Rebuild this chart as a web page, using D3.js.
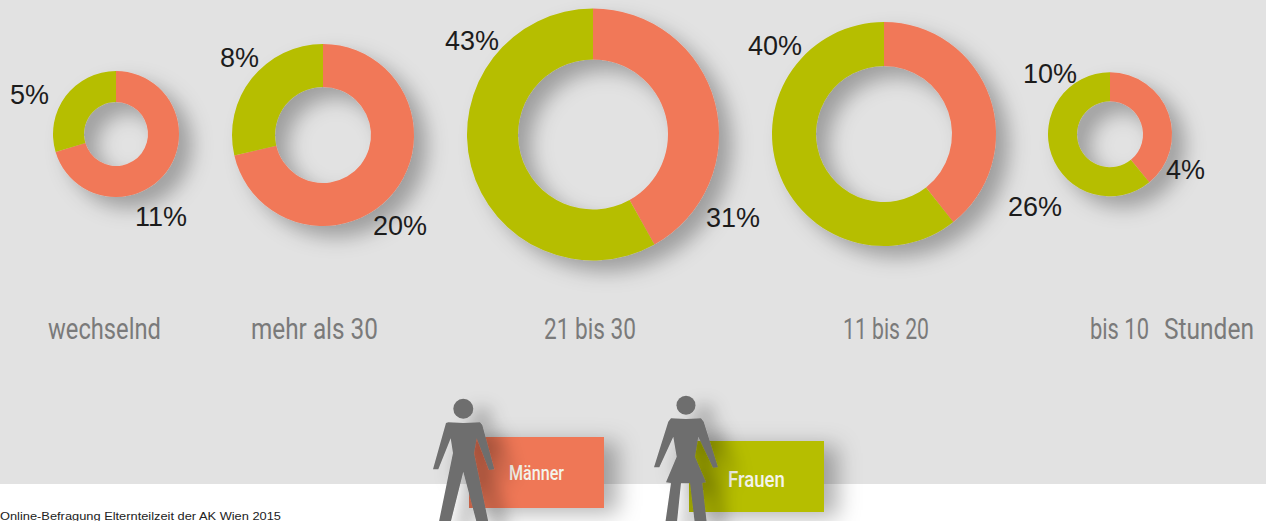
<!DOCTYPE html>
<html><head><meta charset="utf-8">
<script src="https://d3js.org/d3.v7.min.js"></script>
<style>html,body{margin:0;padding:0;background:#fff;overflow:hidden}svg{display:block}</style>
</head><body><div id="c"></div>
<script>
// data
const categories = ["wechselnd","mehr als 30","21 bis 30","11 bis 20","bis 10"];
const menPct = [11,20,31,26,4];
const womenPct = [5,8,43,40,10];
// ring share of men read from the drawn segment boundaries
const menShare = [0.704,0.714,0.419,0.394,0.391];
const unitLabel = "Stunden";
const legendNames = ["Männer","Frauen"];
const source = "Online-Befragung Elternteilzeit der AK Wien 2015";

// layout
const W=1266,H=521,coral="#f17858",olive="#b6be00",grey="#6e6e6e";
const cx=[116,323,593,884,1110], cy=[134,135,134.5,134,134.3];
const outerR=[63,91,126,112,62], innerR=[32,48,75,68,33];
const menLabelXY=[[135,226],[373,235],[706,227],[1008,216],[1166,179]];
const womenLabelXY=[[10,104],[220,67],[445,50],[748,55],[1023,83]];
const catX=[[48,113],[251,127],[544,92],[843,86],[1090,59]];

const svg=d3.select("#c").append("svg").attr("width",W).attr("height",H);
const defs=svg.append("defs");
function shadow(id,dx,dy,sd,op){
  const f=defs.append("filter").attr("id",id).attr("x","-60%").attr("y","-60%").attr("width","240%").attr("height","240%");
  f.append("feDropShadow").attr("dx",dx).attr("dy",dy).attr("stdDeviation",sd).attr("flood-color","#000").attr("flood-opacity",op);
}
shadow("sd",13,11,10,0.3);
shadow("sr",14,5,11,0.3);
shadow("sp",18,10,9,0.32);

svg.append("rect").attr("width",W).attr("height",484).attr("fill","#e2e2e2");

const pie=d3.pie().sort(null).value(d=>d);
categories.forEach((c,i)=>{
  const arc=d3.arc().innerRadius(innerR[i]).outerRadius(outerR[i]);
  const g=svg.append("g").attr("transform",`translate(${cx[i]},${cy[i]})`).attr("filter","url(#sd)");
  g.selectAll("path").data(pie([menShare[i],1-menShare[i]])).join("path")
    .attr("d",arc).attr("fill",(d,j)=>j===0?coral:olive);
});
const pct=(xy,t)=>svg.append("text").attr("x",xy[0]).attr("y",xy[1]).text(t+"%")
  .attr("font-family","Liberation Sans").attr("font-size",27).attr("fill","#1c1c1c");
categories.forEach((c,i)=>{pct(menLabelXY[i],menPct[i]);pct(womenLabelXY[i],womenPct[i]);});

// condensed look: horizontally squeezed text fitted to the measured width
function squeezed(t,x,y,w,fs,weight,fill){
  const n=svg.append("text").text(t).attr("font-family","Roboto").attr("font-weight",weight)
    .attr("font-size",fs).attr("fill",fill);
  const k=w/n.node().getComputedTextLength();
  n.attr("transform",`translate(${x},${y}) scale(${k},1)`);
}
categories.forEach((c,i)=>squeezed(c,catX[i][0],339,catX[i][1],30,400,"#7a7a7a"));
squeezed(unitLabel,1164,339,90,30,400,"#7a7a7a");

// legend
const legend=[{x:469,y:437,c:"#ef7757",tx:509,ty:480,tw:55,fs:20},{x:689,y:441,c:olive,tx:728,ty:487,tw:57,fs:22}];
legend.forEach((l,i)=>{
  svg.append("rect").attr("x",l.x).attr("y",l.y).attr("width",135).attr("height",71).attr("fill",l.c).attr("filter","url(#sr)");
  squeezed(legendNames[i],l.tx,l.ty,l.tw,l.fs,500,"#f4f4ec");
});
const man="M448.3,422.3 L463.3,423 L480,422.3 L482.3,425 L494.3,469.3 L489,470 L476.7,438.3 L474,453.3 L489,525 L477.3,525 L463.3,471.7 L450,525 L438.3,525 L453,453 L450.7,438.3 L438.3,469.3 L433,469.3 L446,423 Z";
const woman="M671,418.3 L686,419 L701,418.3 L703.7,421.7 L718,467.3 L713,467.7 L698.3,436.7 L695,456.7 L706,482.3 L702.3,483 L707,525 L695,525 L690,483 L681,483 L676.7,525 L665,525 L671,483 L666,482.3 L676.7,456.7 L673.3,436.7 L659.3,467.3 L654,467.3 L668.3,421.7 Z";
const pm=svg.append("g").attr("filter","url(#sp)").attr("fill",grey);
pm.append("circle").attr("cx",463.3).attr("cy",408.7).attr("r",10);
pm.append("path").attr("d",man);
const pw=svg.append("g").attr("filter","url(#sp)").attr("fill",grey);
pw.append("circle").attr("cx",686).attr("cy",405.3).attr("r",9.5);
pw.append("path").attr("d",woman);

svg.append("text").attr("x",0).attr("y",519.5).text(source).attr("font-family","Liberation Sans")
  .attr("font-size",11.5).attr("fill","#222").attr("textLength",281).attr("lengthAdjust","spacingAndGlyphs");
</script></body></html>
